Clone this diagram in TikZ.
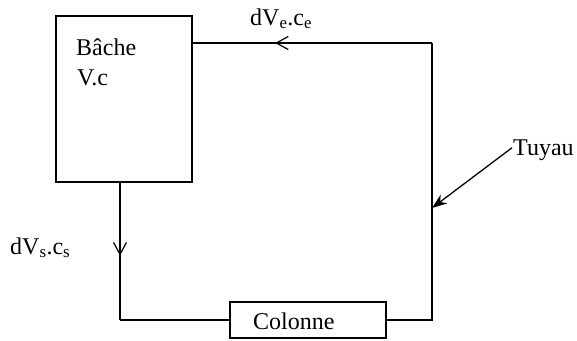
\documentclass[tikz,border=0pt]{standalone}
\usepackage{fontspec}
\setmainfont{Liberation Serif}
\usetikzlibrary{arrows.meta,decorations.markings}
\begin{document}
\begin{tikzpicture}[x=1pt,y=-1pt,
  pipe/.style={line width=1.3pt},
  box/.style={draw,line width=1.3pt,rectangle,inner sep=0pt},
  txt/.style={font=\fontsize{24}{28}\selectfont,inner sep=0pt},
  flowmark/.style={postaction={decorate,decoration={markings,
     mark=at position #1 with {\arrow{Straight Barb[length=12pt,width=13pt,line width=1.2pt]}}}}}
  ]
\useasboundingbox (0,0) rectangle (577,340);
\node[box,minimum width=136pt,minimum height=166pt] (bache) at (124,99) {};
\node[txt,anchor=base west] (bachet) at (76,55) {Bâche};
\node[txt,anchor=base west] (vc) at (77,85) {V.c};
\node[box,minimum width=156pt,minimum height=36pt] (colonne) at (308,320) {};
\node[txt,anchor=base west] (colt) at (253,329) {Colonne};
\coordinate (tr) at (432,43);
\coordinate (br) at (432,320);
\coordinate (bl) at (120,320);
\draw[pipe] (colonne.east) -- (br) -- (tr);
\draw[pipe,flowmark=157pt] (tr) -- (tr -| bache.east);
\draw[pipe,flowmark=73pt] (bache.south -| bl) -- (bl);
\draw[pipe] (bl) -- (colonne.west);
\node[txt,anchor=base west] (ve) at (250,25) {dV\textsubscript{e}.c\textsubscript{e}};
\node[txt,anchor=base west] (vs) at (10,254) {dV\textsubscript{s}.c\textsubscript{s}};
\node[txt,anchor=base west] (tuyau) at (513,155) {Tuyau};
\coordinate (tip) at (432,208);
\draw[line width=1.3pt,-{Stealth[length=15pt,width=11pt]}] (tuyau.west) ++(-1,-2) -- (tip);
\end{tikzpicture}
\end{document}
